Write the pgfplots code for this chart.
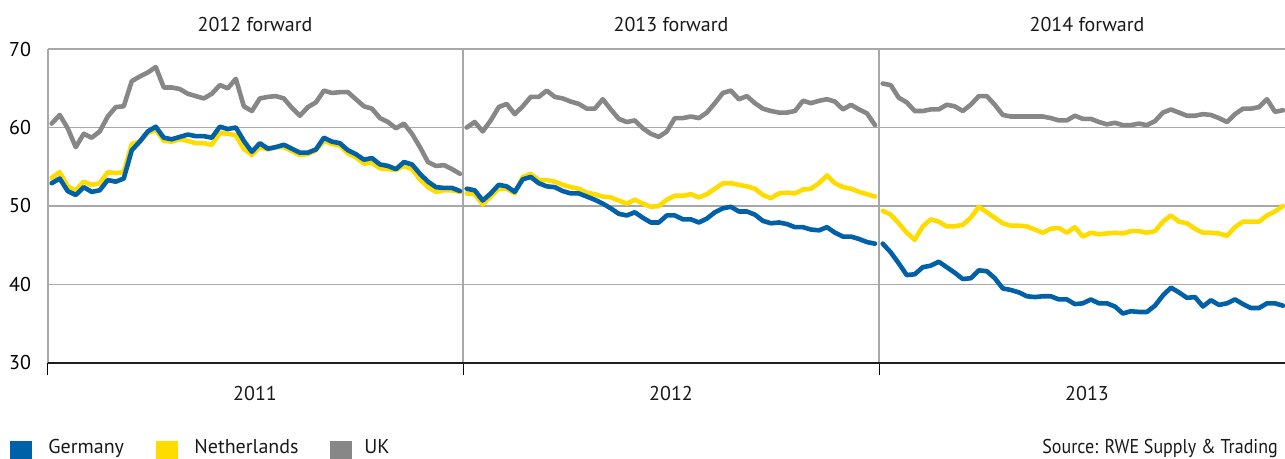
\documentclass[border=0pt]{standalone}
\usepackage{fontspec}
\setmainfont{PT Sans}
\newfontfamily\narrowfont[FakeStretch=0.9]{PT Sans}
\usepackage{pgfplots}
\usepackage{pgfplotstable}
\pgfplotsset{compat=1.18}

\definecolor{deblue}{HTML}{0061A9}
\definecolor{nlyellow}{HTML}{FFDC00}
\definecolor{ukgrey}{HTML}{878787}
\definecolor{gridgrey}{HTML}{A8A8A8}

% 2012 forward (traded in 2011)
\pgfplotstableread{
w DE NL UK
0 52.9 53.6 60.5
1 53.5 54.3 61.6
2 51.9 52.5 59.9
3 51.4 52.0 57.5
4 52.4 53.1 59.2
5 51.8 52.7 58.7
6 52.0 52.9 59.5
7 53.3 54.3 61.4
8 53.1 54.2 62.6
9 53.5 54.3 62.7
10 57.1 57.9 65.9
11 58.2 58.2 66.5
12 59.5 59.3 67.0
13 60.1 59.7 67.7
14 58.7 58.3 65.1
15 58.5 58.2 65.1
16 58.8 58.5 64.9
17 59.1 58.3 64.3
18 58.9 58.0 64.0
19 58.9 58.0 63.7
20 58.7 57.8 64.3
21 60.1 59.3 65.4
22 59.8 59.2 65.0
23 60.0 59.0 66.2
24 58.3 57.3 62.7
25 56.9 56.5 62.1
26 58.0 57.5 63.7
27 57.3 57.2 63.9
28 57.5 57.5 64.0
29 57.8 57.5 63.7
30 57.3 57.0 62.5
31 56.8 56.5 61.5
32 56.8 56.6 62.6
33 57.2 57.1 63.2
34 58.7 58.3 64.7
35 58.2 57.9 64.4
36 58.0 57.7 64.5
37 57.1 56.7 64.5
38 56.6 56.2 63.6
39 55.9 55.4 62.7
40 56.1 55.5 62.4
41 55.3 54.8 61.2
42 55.1 54.7 60.7
43 54.7 54.6 59.9
44 55.6 55.1 60.5
45 55.3 54.7 59.2
46 54.1 53.4 57.5
47 53.1 52.4 55.6
48 52.4 51.8 55.1
49 52.3 52.0 55.2
50 52.3 52.0 54.7
51 51.9 51.8 54.1
}\tableA

% 2013 forward (traded in 2012)
\pgfplotstableread{
w DE NL UK
0 52.2 51.6 60.0
1 52.0 51.5 60.7
2 50.7 50.2 59.5
3 51.6 51.2 60.9
4 52.7 52.2 62.6
5 52.5 52.2 63.0
6 51.8 51.6 61.7
7 53.4 53.7 62.7
8 53.7 54.1 63.9
9 52.9 53.3 63.9
10 52.5 53.3 64.7
11 52.4 53.1 63.9
12 51.9 52.7 63.7
13 51.6 52.4 63.3
14 51.6 52.2 63.0
15 51.2 51.7 62.4
16 50.8 51.5 62.4
17 50.3 51.2 63.6
18 49.7 51.1 62.3
19 49.0 50.7 61.1
20 48.8 50.3 60.7
21 49.2 50.8 60.9
22 48.5 50.3 59.9
23 47.9 49.9 59.2
24 47.9 50.0 58.8
25 48.8 50.8 59.5
26 48.8 51.3 61.2
27 48.3 51.3 61.2
28 48.3 51.5 61.4
29 47.9 51.1 61.2
30 48.4 51.5 61.9
31 49.2 52.2 63.1
32 49.7 52.9 64.4
33 49.9 52.9 64.7
34 49.3 52.7 63.6
35 49.3 52.5 64.0
36 48.9 52.2 63.1
37 48.1 51.4 62.4
38 47.8 51.0 62.1
39 47.9 51.6 61.9
40 47.7 51.7 61.9
41 47.3 51.6 62.1
42 47.3 52.1 63.4
43 47.0 52.2 63.1
44 46.9 52.9 63.4
45 47.3 53.9 63.6
46 46.6 52.9 63.3
47 46.1 52.4 62.3
48 46.1 52.2 62.9
49 45.8 51.8 62.3
50 45.4 51.5 61.8
51 45.2 51.2 60.3
}\tableB

% 2014 forward (traded in 2013)
\pgfplotstableread{
w DE NL UK
0 45.2 49.4 65.6
1 44.1 48.9 65.4
2 42.7 47.8 63.8
3 41.2 46.6 63.2
4 41.3 45.7 62.1
5 42.2 47.4 62.1
6 42.4 48.3 62.3
7 42.9 48.0 62.3
8 42.2 47.4 62.9
9 41.5 47.4 62.7
10 40.7 47.6 62.1
11 40.8 48.5 62.9
12 41.8 49.9 64.0
13 41.7 49.2 64.0
14 40.8 48.5 62.9
15 39.5 47.8 61.6
16 39.3 47.5 61.4
17 39.0 47.5 61.4
18 38.5 47.4 61.4
19 38.4 47.0 61.4
20 38.5 46.6 61.4
21 38.5 47.1 61.2
22 38.1 47.2 60.9
23 38.1 46.6 60.9
24 37.5 47.3 61.5
25 37.6 46.1 61.1
26 38.1 46.6 61.1
27 37.6 46.4 60.7
28 37.6 46.5 60.4
29 37.2 46.6 60.6
30 36.3 46.5 60.3
31 36.6 46.8 60.3
32 36.5 46.8 60.5
33 36.5 46.6 60.3
34 37.3 46.8 60.8
35 38.6 48.0 61.9
36 39.6 48.8 62.3
37 39.0 48.0 61.9
38 38.3 47.8 61.5
39 38.4 47.1 61.5
40 37.2 46.6 61.7
41 38.0 46.6 61.6
42 37.4 46.5 61.2
43 37.6 46.2 60.7
44 38.1 47.3 61.7
45 37.5 48.0 62.4
46 37.0 48.0 62.4
47 37.0 48.0 62.6
48 37.6 48.8 63.6
49 37.6 49.3 62.0
50 37.3 50.0 62.2
}\tableC

\begin{document}
\begin{tikzpicture}
\useasboundingbox (-24pt,-48pt) rectangle (618.5pt,181.5pt);
\clip (-24pt,-48pt) rectangle (618.5pt,181.5pt);
\begin{axis}[
  at={(0pt,0pt)}, anchor=south west,
  scale only axis,
  width=618.5pt, height=157pt,
  xmin=48, xmax=1285, ymin=30, ymax=70,
  axis line style={draw=none},
  xtick={48,463,879}, xticklabels={},
  xtick pos=left,
  tick align=outside,
  major tick length=6pt,
  x tick style={black, line width=0.5pt},
  y tick style={draw=none},
  xmajorgrids, ymajorgrids,
  grid style={color=gridgrey, line width=0.6pt},
  ytick={30,40,50,60,70},
  ytick pos=left,
  yticklabel style={font=\fontsize{10}{12}\selectfont, xshift=1pt},
  /pgf/number format/assume math mode=true,
  clip=false,
  every axis plot/.append style={line width=2.3pt, line join=round, line cap=round, mark=none},
]
\draw[gridgrey, line width=0.6pt] (rel axis cs:0,0) -- (rel axis cs:0,1);
% UK
\addplot[ukgrey] table[x expr=51.7+8.006*\thisrow{w}, y=UK] {\tableA};
\addplot[ukgrey] table[x expr=466.7+8.006*\thisrow{w}, y=UK] {\tableB};
\addplot[ukgrey] table[x expr=882.7+8.006*\thisrow{w}, y=UK] {\tableC};
% Netherlands
\addplot[nlyellow] table[x expr=51.7+8.006*\thisrow{w}, y=NL] {\tableA};
\addplot[nlyellow] table[x expr=466.7+8.006*\thisrow{w}, y=NL] {\tableB};
\addplot[nlyellow] table[x expr=882.7+8.006*\thisrow{w}, y=NL] {\tableC};
% Germany
\addplot[deblue] table[x expr=51.7+8.006*\thisrow{w}, y=DE] {\tableA};
\addplot[deblue] table[x expr=466.7+8.006*\thisrow{w}, y=DE] {\tableB};
\addplot[deblue] table[x expr=882.7+8.006*\thisrow{w}, y=DE] {\tableC};
\draw[black!88, line width=1.2pt] (rel axis cs:0,0) -- (rel axis cs:1,0);
\end{axis}

\begin{scope}[every node/.style={font=\fontsize{10}{12}\selectfont, text=black!90}]
\node at (103.5pt,169pt) {2012 forward};
\node at (311.5pt,169pt) {2013 forward};
\node at (519.5pt,169pt) {2014 forward};
\node at (103.5pt,-15.5pt) {2011};
\node at (311.5pt,-15.5pt) {2012};
\node at (519.5pt,-15.5pt) {2013};

\fill[deblue] (-19pt,-39pt) rectangle (-8pt,-50pt);
\node[anchor=base west, inner sep=0pt] at (0pt,-45.3pt) {Germany};
\fill[nlyellow] (54pt,-39pt) rectangle (65pt,-50pt);
\node[anchor=base west, inner sep=0pt] at (73pt,-45.3pt) {Netherlands};
\fill[ukgrey] (141pt,-39pt) rectangle (152pt,-50pt);
\node[anchor=base west, inner sep=0pt] at (158pt,-45.3pt) {UK};
\node[anchor=base west, inner sep=0pt, font=\narrowfont\fontsize{10}{12}\selectfont] at (497pt,-45.3pt) {Source: RWE Supply \& Trading};
\end{scope}
\end{tikzpicture}
\end{document}
